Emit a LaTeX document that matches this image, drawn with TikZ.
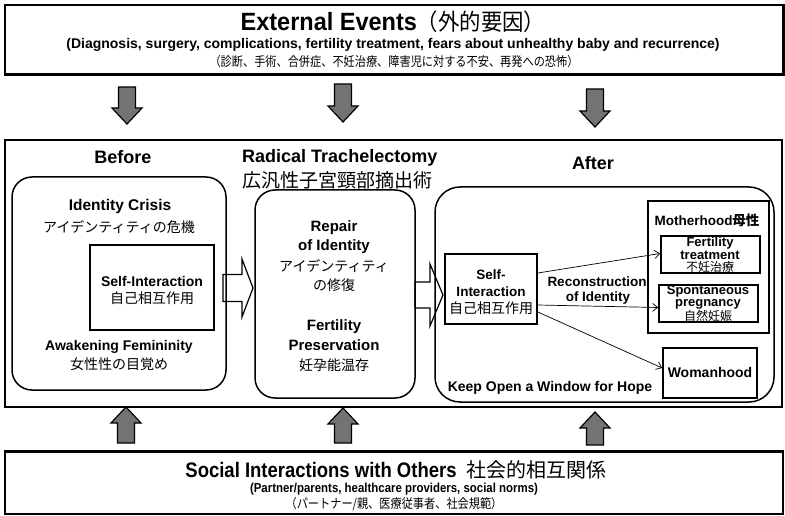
\documentclass[tikz,border=0pt]{standalone}
\usepackage{fontspec}
\setmainfont{Liberation Sans}
\newfontfamily\jp{Noto Sans CJK JP}
\newfontfamily\narrow{Liberation Sans}[FakeStretch=0.88]
\newfontfamily\semi{Liberation Sans}[FakeStretch=0.94]
\newfontfamily\jpnarrow{Noto Sans CJK JP}[FakeStretch=0.86]
\newfontfamily\jpsemi{Noto Sans CJK JP}[FakeStretch=0.93]
\usetikzlibrary{arrows.meta}
\newcommand\fs[1]{\fontsize{#1}{#1}\selectfont}
\newcommand\grayDown[3]{% x, top y, tip y
  \draw[garrow] (#1-8.5,#2) -- (#1+8.5,#2) -- (#1+8.5,#3-16) -- (#1+15,#3-16) -- (#1,#3) -- (#1-15,#3-16) -- (#1-8.5,#3-16) -- cycle;}
\newcommand\grayUp[3]{% x, tip y, bottom y
  \draw[garrow] (#1-8.5,#3) -- (#1+8.5,#3) -- (#1+8.5,#2+16) -- (#1+15,#2+16) -- (#1,#2) -- (#1-15,#2+16) -- (#1-8.5,#2+16) -- cycle;}
\newcommand\blockRight[6]{% x0, yc, xhead, xtip, shaft half, head half
  \draw[barrow] (#1,#2-#5) -- (#3,#2-#5) -- (#3,#2-#6) -- (#4,#2) -- (#3,#2+#6) -- (#3,#2+#5) -- (#1,#2+#5) -- cycle;}
\begin{document}
\begin{tikzpicture}[x=1pt,y=-1pt,
  outer/.style={draw, line width=1.1pt, fill=white, inner sep=0pt},
  rbox/.style={draw, line width=1.5pt, rounded corners=20pt, inner sep=0pt},
  ibox/.style={draw, line width=1.7pt, inner sep=0pt},
  txt/.style={inner sep=0pt, align=center},
  garrow/.style={draw, line width=1.2pt, fill=black!55, line join=miter},
  barrow/.style={draw, line width=1.2pt, fill=white, line join=miter},
  conn/.style={line width=0.7pt, -{Straight Barb[length=5pt,width=8pt,line width=0.7pt]}},
  shadowline/.style={line width=2.4pt}
]
\useasboundingbox (0,0) rectangle (785,516);

% ---------- top box ----------
\node[outer, minimum width=778pt, minimum height=69pt] (ext) at (394,39.5) {};
\draw[shadowline] (ext.south west) -- (ext.south east) -- (ext.north east);
\node[txt] (extT) at (393,22) {\semi\bfseries\fs{25}External Events{\jpsemi\mdseries\fs{23}（外的要因）}};
\node[txt] (extE) at (393,45) {\bfseries\fs{14}(Diagnosis, surgery, complications, fertility treatment, fears about unhealthy baby and recurrence)};
\node[txt] (extJ) at (394,62) {\jpnarrow\fs{13}（診断、手術、合併症、不妊治療、障害児に対する不安、再発への恐怖）};

% ---------- gray arrows ----------
\grayDown{127}{87}{124}
\grayDown{343}{84}{122}
\grayDown{595}{89}{127}
\grayUp{126}{407}{443}
\grayUp{343}{408}{443}
\grayUp{595}{412}{445}

% ---------- main box ----------
\node[outer, line width=1.3pt, minimum width=777pt, minimum height=267pt] (main) at (393.5,273.5) {};

\node[txt] (before) at (123,157) {\bfseries\fs{18}Before};
\node[txt, anchor=west] (rt) at (242,158) {\bfseries\fs{18}Radical Trachelectomy};
\node[txt, anchor=west] (rtj) at (242,180) {\jp\fs{19}広汎性子宮頸部摘出術};
\node[txt] (after) at (593,163) {\bfseries\fs{18}After};

% block arrows (drawn before boxes)
\blockRight{223}{288}{242}{253}{13.5}{29}
\blockRight{415}{295}{430}{443}{13}{31}

% before
\node[rbox, minimum width=214pt, minimum height=213pt] (bbox) at (119,283.5) {};
\node[txt] (ic) at (120,206) {\bfseries\fs{15.5}Identity Crisis};
\node[txt] (icj) at (119,227) {\jp\fs{14}アイデンティティの危機};
\node[ibox, fill=white, minimum width=124pt, minimum height=85pt] (selfB) at (152,287.5) {};
\node[txt] (sbE) at (152,281) {\bfseries\fs{14}Self-Interaction};
\node[txt] (sbJ) at (152,298) {\jp\fs{14}自己相互作用};
\node[txt] (aw) at (119,347) {\bfseries\fs{14}Awakening Femininity};
\node[txt] (awj) at (119,364) {\jp\fs{14}女性性の目覚め};

% middle
\node[rbox, minimum width=160pt, minimum height=208pt] (mbox) at (335,294) {};
\node[txt] (m1) at (334,228) {\bfseries\fs{15}Repair};
\node[txt] (m2) at (334,247) {\bfseries\fs{15}of Identity};
\node[txt] (m3) at (334,266) {\jp\fs{14}アイデンティティ};
\node[txt] (m4) at (334,285) {\jp\fs{14}の修復};
\node[txt] (m5) at (334,327) {\bfseries\fs{15}Fertility};
\node[txt] (m6) at (334,345) {\bfseries\fs{15}Preservation};
\node[txt] (m7) at (334,365) {\jp\fs{14}妊孕能温存};

% after
\node[rbox, rounded corners=25pt, minimum width=339pt, minimum height=215pt] (abox) at (604.5,294.5) {};
\node[ibox, minimum width=92pt, minimum height=70pt] (selfA) at (491,289) {};
\node[txt] (sa1) at (491,275) {\bfseries\fs{13.5}Self-};
\node[txt] (sa2) at (491,292) {\bfseries\fs{13.5}Interaction};
\node[txt] (sa3) at (491,308) {\jp\fs{14}自己相互作用};

\node[ibox, minimum width=121pt, minimum height=132pt] (mother) at (708.5,267) {};
\node[txt] (moT) at (707,220) {\bfseries\fs{13.5}Motherhood{\jp\fs{13.5}母性}};
\node[ibox, minimum width=99pt, minimum height=37pt] (fert) at (710.5,254.5) {};
\node[txt] (f1) at (710,243.5) {\bfseries\fs{13}Fertility};
\node[txt] (f2) at (710,255) {\bfseries\fs{13}treatment};
\node[txt] (f3) at (710,266.5) {\jp\fs{12}不妊治療};
\node[ibox, minimum width=99pt, minimum height=37pt] (spont) at (708.5,303.5) {};
\node[txt] (s1) at (708,291) {\bfseries\fs{13}Spontaneous};
\node[txt] (s2) at (708,304) {\bfseries\fs{13}pregnancy};
\node[txt] (s3) at (708,315.5) {\jp\fs{12}自然妊娠};
\node[ibox, minimum width=94pt, minimum height=50pt] (woman) at (710,373) {};
\node[txt] (w1) at (710,372) {\bfseries\fs{14}Womanhood};

\node[txt] (rec1) at (597,282) {\bfseries\fs{13.5}Reconstruction};
\node[txt] (rec2) at (598,298) {\bfseries\fs{13.5}of Identity};
\node[txt] (hope) at (550,388) {\bfseries\fs{14}Keep Open a Window for Hope};

\draw[conn] ([yshift=16pt]selfA.east) -- ([yshift=1pt]fert.west);
\draw[conn] ([yshift=-16pt]selfA.east) -- ([yshift=-4pt]spont.west);
\draw[conn] ([yshift=-23pt]selfA.east) -- ([yshift=5pt]woman.west);

% ---------- bottom box ----------
\node[outer, minimum width=778pt, minimum height=62pt] (soc) at (394,483) {};
\draw[shadowline] (soc.north west) -- (soc.north east);
\node[txt] (socT) at (396,470) {\narrow\bfseries\fs{21}Social Interactions with Others\hspace{10pt}{\jp\mdseries\fs{20}社会的相互関係}};
\node[txt] (socE) at (394,489.5) {\narrow\bfseries\fs{13}(Partner/parents, healthcare providers, social norms)};
\node[txt] (socJ) at (394,504) {\jpnarrow\fs{13}（パートナー/親、医療従事者、社会規範）};
\end{tikzpicture}
\end{document}
